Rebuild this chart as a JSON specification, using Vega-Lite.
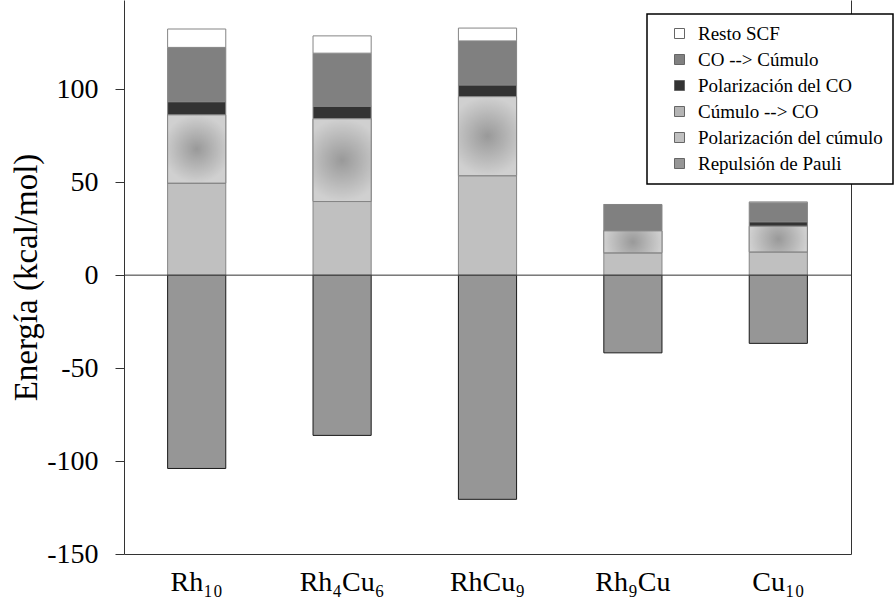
{
  "$schema": "https://vega.github.io/schema/vega-lite/v6.json",
  "width": 727,
  "height": 554,
  "autosize": {"type": "none"},
  "padding": {"left": 124, "top": 0, "right": 43, "bottom": 55},
  "background": "white",
  "config": {
    "view": {"stroke": null},
    "font": "Liberation Serif",
    "axis": {"labelColor": "#000", "titleColor": "#000", "domainColor": "#333", "tickColor": "#333", "grid": false, "labelFont": "Liberation Serif", "titleFont": "Liberation Serif"},
    "legend": {"strokeColor": "#000", "strokeWidth": 1.5, "fillColor": "#fff", "labelFont": "Liberation Serif"}
  },
  "data": {
    "values": [
      {"cluster": "Rh₁₀", "component": "Repulsión de Pauli", "order": 0, "value": -104.0},
      {"cluster": "Rh₁₀", "component": "Polarización del cúmulo", "order": 1, "value": 49.5},
      {"cluster": "Rh₁₀", "component": "Cúmulo --> CO", "order": 2, "value": 36.7},
      {"cluster": "Rh₁₀", "component": "Polarización del CO", "order": 3, "value": 7.1},
      {"cluster": "Rh₁₀", "component": "CO --> Cúmulo", "order": 4, "value": 29.2},
      {"cluster": "Rh₁₀", "component": "Resto SCF", "order": 5, "value": 9.9},
      {"cluster": "Rh₄Cu₆", "component": "Repulsión de Pauli", "order": 0, "value": -86.2},
      {"cluster": "Rh₄Cu₆", "component": "Polarización del cúmulo", "order": 1, "value": 39.6},
      {"cluster": "Rh₄Cu₆", "component": "Cúmulo --> CO", "order": 2, "value": 44.5},
      {"cluster": "Rh₄Cu₆", "component": "Polarización del CO", "order": 3, "value": 6.8},
      {"cluster": "Rh₄Cu₆", "component": "CO --> Cúmulo", "order": 4, "value": 28.5},
      {"cluster": "Rh₄Cu₆", "component": "Resto SCF", "order": 5, "value": 9.3},
      {"cluster": "RhCu₉", "component": "Repulsión de Pauli", "order": 0, "value": -120.6},
      {"cluster": "RhCu₉", "component": "Polarización del cúmulo", "order": 1, "value": 53.5},
      {"cluster": "RhCu₉", "component": "Cúmulo --> CO", "order": 2, "value": 42.5},
      {"cluster": "RhCu₉", "component": "Polarización del CO", "order": 3, "value": 6.3},
      {"cluster": "RhCu₉", "component": "CO --> Cúmulo", "order": 4, "value": 23.7},
      {"cluster": "RhCu₉", "component": "Resto SCF", "order": 5, "value": 6.9},
      {"cluster": "Rh₉Cu", "component": "Repulsión de Pauli", "order": 0, "value": -41.8},
      {"cluster": "Rh₉Cu", "component": "Polarización del cúmulo", "order": 1, "value": 12.0},
      {"cluster": "Rh₉Cu", "component": "Cúmulo --> CO", "order": 2, "value": 11.8},
      {"cluster": "Rh₉Cu", "component": "Polarización del CO", "order": 3, "value": 0.2},
      {"cluster": "Rh₉Cu", "component": "CO --> Cúmulo", "order": 4, "value": 14.0},
      {"cluster": "Rh₉Cu", "component": "Resto SCF", "order": 5, "value": 0.0},
      {"cluster": "Cu₁₀", "component": "Repulsión de Pauli", "order": 0, "value": -36.7},
      {"cluster": "Cu₁₀", "component": "Polarización del cúmulo", "order": 1, "value": 12.5},
      {"cluster": "Cu₁₀", "component": "Cúmulo --> CO", "order": 2, "value": 13.8},
      {"cluster": "Cu₁₀", "component": "Polarización del CO", "order": 3, "value": 2.4},
      {"cluster": "Cu₁₀", "component": "CO --> Cúmulo", "order": 4, "value": 10.2},
      {"cluster": "Cu₁₀", "component": "Resto SCF", "order": 5, "value": 0.5}
    ]
  },
  "transform": [
    {"stack": "value", "groupby": ["cluster"], "sort": [{"field": "order", "order": "ascending"}], "as": ["v0", "v1"]}
  ],
  "layer": [
    {
      "mark": {"type": "bar", "strokeWidth": 1},
      "encoding": {
        "x": {
          "field": "cluster", "type": "nominal",
          "sort": ["Rh₁₀", "Rh₄Cu₆", "RhCu₉", "Rh₉Cu", "Cu₁₀"],
          "scale": {"paddingInner": 0.6, "paddingOuter": 0.3},
          "axis": {"title": null, "labelAngle": 0, "labelFontSize": 28, "ticks": false, "labelPadding": 14, "domain": true, "domainWidth": 1}
        },
        "y": {
          "field": "v0", "type": "quantitative",
          "scale": {"domain": [-150, 148], "nice": false, "zero": false},
          "axis": {"title": "Energía (kcal/mol)", "titleFontSize": 33, "titleFontWeight": "normal", "titlePadding": 3, "values": [-150, -100, -50, 0, 50, 100], "labelExpr": "'' + datum.value", "labelFontSize": 28, "labelPadding": 17, "tickSize": 9, "domainWidth": 1}
        },
        "y2": {"field": "v1"},
        "color": {
          "field": "component", "type": "nominal",
          "scale": {
            "domain": ["Resto SCF", "CO --> Cúmulo", "Polarización del CO", "Cúmulo --> CO", "Polarización del cúmulo", "Repulsión de Pauli"],
            "range": ["#ffffff", "#808080", "#333333", "#b4b4b4", "#c0c0c0", "#969696"]
          },
          "legend": {
            "title": null, "orient": "none", "legendX": 523, "legendY": 14, "direction": "vertical",
            "padding": 10, "symbolOffset": 13, "symbolType": "square", "symbolSize": 100,
            "symbolStrokeColor": "#666", "symbolStrokeWidth": 1, "labelOffset": 9,
            "labelFont": "Liberation Serif", "labelFontSize": 19, "labelColor": "#000", "rowPadding": 6, "labelLimit": 300
          }
        },
        "stroke": {
          "condition": {"test": "datum.component === 'Repulsión de Pauli'", "value": "#1a1a1a"},
          "value": "#858585"
        }
      }
    },
    {
      "transform": [{"filter": "datum.component === 'Cúmulo --> CO'"}],
      "mark": {
        "type": "bar", "strokeWidth": 1, "stroke": "#858585",
        "fill": {"gradient": "radial", "x1": 0.5, "y1": 0.5, "r1": 0, "x2": 0.5, "y2": 0.5, "r2": 0.5,
                 "stops": [{"offset": 0, "color": "#999999"}, {"offset": 0.4, "color": "#afafaf"}, {"offset": 1, "color": "#d0d0d0"}]}
      },
      "encoding": {
        "x": {"field": "cluster", "type": "nominal", "sort": ["Rh₁₀", "Rh₄Cu₆", "RhCu₉", "Rh₉Cu", "Cu₁₀"]},
        "y": {"field": "v0", "type": "quantitative", "axis": null},
        "y2": {"field": "v1"}
      }
    },
    {
      "data": {"values": [{"z": 0}]},
      "transform": [],
      "mark": {"type": "rule", "color": "#333", "strokeWidth": 1},
      "encoding": {
        "y": {"field": "z", "type": "quantitative",
              "axis": {"orient": "right", "labels": false, "ticks": false, "title": null, "domain": true, "domainWidth": 1}}
      }
    }
  ],
  "resolve": {"axis": {"y": "independent"}}
}
